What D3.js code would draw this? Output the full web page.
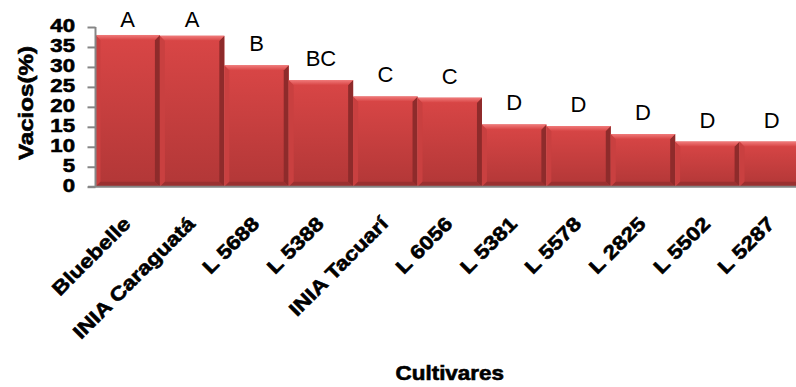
<!DOCTYPE html>
<html>
<head>
<meta charset="utf-8">
<script src="https://cdn.jsdelivr.net/npm/d3@7"></script>
<style>
  html, body { margin: 0; padding: 0; background: #ffffff; }
  svg { display: block; font-family: Arial, "Liberation Sans", sans-serif; }
  .heavy { font-weight: bold; stroke: #000; stroke-width: 0.6px; paint-order: stroke; }
</style>
</head>
<body>
<svg id="chart" width="796" height="387"></svg>
<script>
// Cultivars, percentage of empty grains, and significance letters
const cultivares = ["Bluebelle", "INIA Caraguatá", "L 5688", "L 5388", "INIA Tacuarí",
                    "L 6056", "L 5381", "L 5578", "L 2825", "L 5502", "L 5287"];
const vacios = [38.0, 37.8, 30.4, 26.7, 22.6, 22.3, 15.6, 15.2, 13.2, 11.3, 11.3];
const letras = ["A", "A", "B", "BC", "C", "C", "D", "D", "D", "D", "D"];
const yTicks = [0, 5, 10, 15, 20, 25, 30, 35, 40];

const svg = d3.select("#chart");
const plot = { left: 95.5, right: 804, top: 27, bottom: 186.7 };

const x = d3.scaleBand().domain(cultivares).range([plot.left, plot.right]).padding(0);
const y = d3.scaleLinear().domain([0, 40]).range([plot.bottom, plot.top]);

// Gradients for the bevelled red bars
const defs = svg.append("defs");
const body = defs.append("linearGradient").attr("id", "barBody")
  .attr("x1", 0).attr("y1", 0).attr("x2", 0).attr("y2", 1);
body.append("stop").attr("offset", "0%").attr("stop-color", "#d94646");
body.append("stop").attr("offset", "100%").attr("stop-color", "#b23737");
const topEdge = defs.append("linearGradient").attr("id", "barTop")
  .attr("x1", 0).attr("y1", 0).attr("x2", 0).attr("y2", 1);
topEdge.append("stop").attr("offset", "0%").attr("stop-color", "#f07a7a");
topEdge.append("stop").attr("offset", "100%").attr("stop-color", "#d84545");

const bw = x.bandwidth();
const bev = 5;
const bars = svg.append("g").selectAll("g").data(cultivares).join("g");

bars.append("rect")
  .attr("x", d => x(d)).attr("y", (d, i) => y(vacios[i]))
  .attr("width", bw).attr("height", (d, i) => y(0) - y(vacios[i]))
  .attr("fill", "url(#barBody)");

// left bevel
bars.append("path").attr("fill", "#c94040").attr("d", (d, i) => {
  const x0 = x(d), t = y(vacios[i]), b = y(0);
  return `M${x0},${t}L${x0 + bev},${t + bev}L${x0 + bev},${b - bev}L${x0},${b}Z`;
});
// right bevel
bars.append("path").attr("fill", "#8e2b2b").attr("d", (d, i) => {
  const x1 = x(d) + bw, t = y(vacios[i]), b = y(0);
  return `M${x1},${t}L${x1 - bev},${t + bev}L${x1 - bev},${b - bev}L${x1},${b}Z`;
});
// bottom bevel
bars.append("path").attr("fill", "#9a3030").attr("d", (d, i) => {
  const x0 = x(d), x1 = x0 + bw, b = y(0);
  return `M${x0},${b}L${x0 + bev},${b - bev}L${x1 - bev},${b - bev}L${x1},${b}Z`;
});
// top bevel
bars.append("path").attr("fill", "url(#barTop)").attr("d", (d, i) => {
  const x0 = x(d), x1 = x0 + bw, t = y(vacios[i]);
  return `M${x0},${t}L${x1},${t}L${x1 - bev},${t + bev}L${x0 + bev},${t + bev}Z`;
});

// Significance letters above the bars
svg.append("g").selectAll("text").data(cultivares).join("text")
  .attr("x", d => x(d) + bw / 2)
  .attr("y", (d, i) => Math.max(y(vacios[i]) - 14, plot.top))
  .attr("text-anchor", "middle")
  .attr("font-size", 22)
  .attr("fill", "#000")
  .text((d, i) => letras[i]);

// Y axis
const yAxis = svg.append("g").attr("transform", `translate(${plot.left},0)`)
  .call(d3.axisLeft(y).tickValues(yTicks).tickSize(8).tickFormat(""));
yAxis.select(".domain").attr("stroke", "#868686").attr("stroke-width", 2)
  .attr("d", `M0,${plot.top}V${plot.bottom}`);
yAxis.selectAll(".tick line").attr("stroke", "#868686").attr("stroke-width", 2);

svg.append("g").selectAll("text").data(yTicks).join("text")
  .attr("class", "heavy")
  .attr("transform", d => `translate(75,${y(d) + 4.8}) scale(1.2,1)`)
  .attr("text-anchor", "end")
  .attr("font-size", 18.5)
  .text(d => d);

// X axis line
svg.append("line")
  .attr("x1", 88).attr("x2", 796)
  .attr("y1", y(0)).attr("y2", y(0))
  .attr("stroke", "#868686").attr("stroke-width", 2);

// Rotated cultivar labels
svg.append("g").selectAll("text").data(cultivares).join("text")
  .attr("class", "heavy")
  .attr("transform", d => `translate(${x(d) + bw / 2 + 4},225) rotate(-45) scale(1.17,1)`)
  .attr("text-anchor", "end")
  .attr("font-size", 19.5)
  .text(d => d);

// Axis titles
svg.append("text")
  .attr("class", "heavy")
  .attr("transform", `translate(${(plot.left + plot.right) / 2},380) scale(1.15,1)`)
  .attr("text-anchor", "middle")
  .attr("font-size", 19.5)
  .text("Cultivares");

svg.append("text")
  .attr("class", "heavy")
  .attr("transform", `translate(33,103) rotate(-90) scale(1.15,1)`)
  .attr("text-anchor", "middle")
  .attr("font-size", 21)
  .text("Vacios(%)");
</script>
</body>
</html>
